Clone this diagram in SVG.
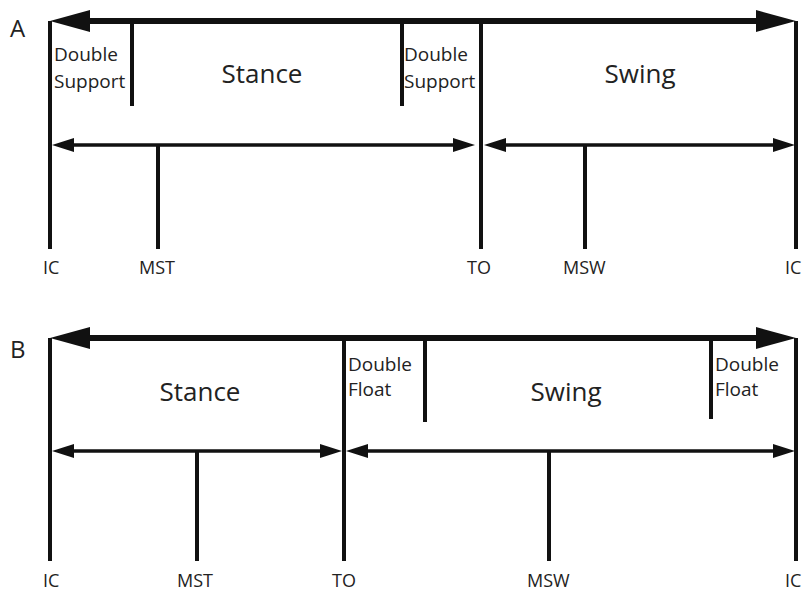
<svg xmlns="http://www.w3.org/2000/svg" width="805" height="592" viewBox="0 0 805 592">
<style>
.v{stroke:#111;stroke-width:4;fill:none}
.big{stroke:#111;stroke-width:6;fill:none;marker-start:url(#bh);marker-end:url(#bh)}
.sm{stroke:#111;stroke-width:3.5;fill:none;marker-start:url(#sh);marker-end:url(#sh)}
text{font-family:"Open Sans","Liberation Sans",sans-serif;fill:#222}
.ph{font-size:26px;text-anchor:middle}
.sub{font-size:19px}
.lb{font-size:18px}
.pl{font-size:24px}
</style>
<defs>
<marker id="bh" markerUnits="userSpaceOnUse" markerWidth="42" markerHeight="24" refX="0" refY="12" orient="auto-start-reverse" overflow="visible">
<path d="M0,1 L40,12 L0,23 z" fill="#111"/>
</marker>
<marker id="sh" markerUnits="userSpaceOnUse" markerWidth="24" markerHeight="16" refX="0" refY="8" orient="auto-start-reverse" overflow="visible">
<path d="M0,1 L22,8 L0,15 z" fill="#111"/>
</marker>
</defs>
<rect width="805" height="592" fill="#fff"/>
<g id="panelA">
<text class="pl" x="10" y="37">A</text>
<g id="A-connectors">
<line class="big" x1="90" y1="21" x2="756" y2="21"/>
<line class="sm" x1="74" y1="145" x2="453" y2="145"/>
<line class="sm" x1="506" y1="145" x2="773" y2="145"/>
</g>
<g id="A-IC1"><line class="v" x1="50" y1="21" x2="50" y2="249"/><text class="lb" x="43" y="274">IC</text></g>
<g id="A-DS1"><line class="v" x1="132" y1="21" x2="132" y2="106"/><text class="sub" x="54" y="61">Double</text><text class="sub" x="54" y="88">Support</text></g>
<g id="A-Stance"><text class="ph" x="262" y="83">Stance</text></g>
<g id="A-DS2"><line class="v" x1="402" y1="21" x2="402" y2="106"/><text class="sub" x="404" y="61">Double</text><text class="sub" x="404" y="88">Support</text></g>
<g id="A-TO"><line class="v" x1="481" y1="21" x2="481" y2="249"/><text class="lb" x="467" y="274">TO</text></g>
<g id="A-Swing"><text class="ph" x="640" y="83">Swing</text></g>
<g id="A-MST"><line class="v" x1="158" y1="145" x2="158" y2="249"/><text class="lb" x="139" y="274">MST</text></g>
<g id="A-MSW"><line class="v" x1="585" y1="145" x2="585" y2="249"/><text class="lb" x="563" y="274">MSW</text></g>
<g id="A-IC2"><line class="v" x1="796" y1="21" x2="796" y2="249"/><text class="lb" x="785" y="274">IC</text></g>
</g>
<g id="panelB">
<text class="pl" x="10" y="358">B</text>
<g id="B-connectors">
<line class="big" x1="90" y1="338" x2="756" y2="338"/>
<line class="sm" x1="74" y1="451" x2="320" y2="451"/>
<line class="sm" x1="368" y1="451" x2="773" y2="451"/>
</g>
<g id="B-IC1"><line class="v" x1="50" y1="338" x2="50" y2="561"/><text class="lb" x="43" y="587">IC</text></g>
<g id="B-Stance"><text class="ph" x="200" y="401">Stance</text></g>
<g id="B-TO"><line class="v" x1="344" y1="338" x2="344" y2="561"/><text class="lb" x="332" y="587">TO</text></g>
<g id="B-DF1"><line class="v" x1="425" y1="338" x2="425" y2="422"/><text class="sub" x="348" y="371">Double</text><text class="sub" x="348" y="396">Float</text></g>
<g id="B-Swing"><text class="ph" x="566" y="401">Swing</text></g>
<g id="B-DF2"><line class="v" x1="711" y1="338" x2="711" y2="419"/><text class="sub" x="715" y="371">Double</text><text class="sub" x="715" y="396">Float</text></g>
<g id="B-MST"><line class="v" x1="197" y1="451" x2="197" y2="561"/><text class="lb" x="177" y="587">MST</text></g>
<g id="B-MSW"><line class="v" x1="549" y1="451" x2="549" y2="561"/><text class="lb" x="527" y="587">MSW</text></g>
<g id="B-IC2"><line class="v" x1="796" y1="338" x2="796" y2="561"/><text class="lb" x="785" y="587">IC</text></g>
</g>
</svg>
